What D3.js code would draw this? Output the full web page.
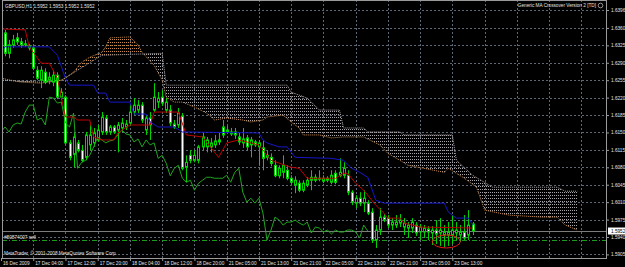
<!DOCTYPE html>
<html>
<head>
<meta charset="utf-8">
<script src="https://cdn.jsdelivr.net/npm/d3@7"></script>
<style>
  body { margin: 0; background: #000; }
  svg { display: block; }
  text { font-family: "Liberation Sans", Arial, sans-serif; font-size: 4.7px; fill: #e4e4e4; }
</style>
</head>
<body>
<svg id="main" width="625" height="267"></svg>
<script>
// GBPUSD H1 candles, bar 0 = 16 Dec 2009 20:00
const openP = [1.6336,1.6350,1.6309,1.6326,1.6340,1.6332,1.6328,1.6324,1.6320,1.6275,
  1.6255,1.6271,1.6255,1.6251,1.6265,1.6221,1.6221,1.6129,1.6106,1.6129,
  1.6114,1.6100,1.6125,1.6129,1.6135,1.6151,1.6179,1.6151,1.6161,1.6155,
  1.6159,1.6161,1.6169,1.6191,1.6195,1.6205,1.6155,1.6179,1.6195,1.6211,
  1.6221,1.6195,1.6195,1.6167,1.6165,1.6183,1.6080,1.6104,1.6094,1.6094,
  1.6121,1.6121,1.6121,1.6125,1.6131,1.6161,1.6151,1.6151,1.6151,1.6141,
  1.6129,1.6139,1.6125,1.6131,1.6121,1.6119,1.6100,1.6100,1.6084,1.6063,
  1.6070,1.6074,1.6058,1.6044,1.6048,1.6034,1.6044,1.6054,1.6054,1.6056,
  1.6052,1.6054,1.6050,1.6068,1.6064,1.6064,1.6064,1.6030,1.6008,1.6018,
  1.6008,1.6008,1.5990,1.5934,1.5954,1.5980,1.5978,1.5964,1.5964,1.5968,
  1.5960,1.5958,1.5958,1.5964,1.5950,1.5950,1.5956,1.5948,1.5954,1.5948,
  1.5944,1.5944,1.5944,1.5948,1.5944,1.5950,1.5944,1.5966];
const highP = [1.6376,1.6356,1.6336,1.6346,1.6350,1.6340,1.6336,1.6328,1.6324,1.6283,
  1.6283,1.6279,1.6271,1.6275,1.6271,1.6239,1.6225,1.6135,1.6149,1.6135,
  1.6125,1.6151,1.6165,1.6159,1.6165,1.6191,1.6185,1.6165,1.6165,1.6171,
  1.6179,1.6175,1.6205,1.6219,1.6215,1.6211,1.6185,1.6191,1.6249,1.6231,
  1.6235,1.6219,1.6205,1.6175,1.6199,1.6189,1.6104,1.6114,1.6114,1.6125,
  1.6149,1.6141,1.6139,1.6145,1.6149,1.6175,1.6163,1.6159,1.6159,1.6149,
  1.6159,1.6145,1.6141,1.6135,1.6135,1.6135,1.6114,1.6108,1.6094,1.6084,
  1.6104,1.6084,1.6064,1.6062,1.6054,1.6054,1.6060,1.6074,1.6066,1.6074,
  1.6064,1.6062,1.6074,1.6074,1.6098,1.6090,1.6074,1.6034,1.6024,1.6030,
  1.6034,1.6014,1.5998,1.5964,1.5998,1.5986,1.5984,1.5978,1.5984,1.5986,
  1.5978,1.5970,1.5978,1.5970,1.5966,1.5964,1.5962,1.5962,1.5974,1.5978,
  1.5964,1.5970,1.5984,1.5970,1.5964,1.5984,1.5994,1.5970];
const lowP = [1.6322,1.6303,1.6299,1.6320,1.6326,1.6320,1.6322,1.6315,1.6275,1.6255,
  1.6239,1.6247,1.6247,1.6243,1.6217,1.6215,1.6125,1.6094,1.6080,1.6110,
  1.6090,1.6094,1.6114,1.6121,1.6131,1.6145,1.6145,1.6145,1.6147,1.6110,
  1.6151,1.6155,1.6163,1.6185,1.6189,1.6169,1.6145,1.6135,1.6191,1.6199,
  1.6203,1.6189,1.6163,1.6157,1.6159,1.6074,1.6050,1.6088,1.6090,1.6088,
  1.6114,1.6110,1.6110,1.6119,1.6125,1.6139,1.6147,1.6143,1.6137,1.6125,
  1.6119,1.6114,1.6100,1.6121,1.6084,1.6074,1.6094,1.6082,1.6060,1.6058,
  1.6058,1.6054,1.6046,1.6028,1.6030,1.6030,1.6040,1.6034,1.6050,1.6052,
  1.6048,1.6050,1.6046,1.6046,1.6060,1.6058,1.6024,1.6004,1.5998,1.6002,
  1.5990,1.5984,1.5928,1.5918,1.5944,1.5970,1.5958,1.5954,1.5958,1.5960,
  1.5944,1.5938,1.5948,1.5942,1.5934,1.5938,1.5934,1.5924,1.5926,1.5922,
  1.5920,1.5922,1.5926,1.5934,1.5930,1.5934,1.5934,1.5944];
const closeP = [1.6356,1.6309,1.6326,1.6336,1.6332,1.6326,1.6326,1.6320,1.6279,1.6259,
  1.6275,1.6251,1.6261,1.6265,1.6221,1.6231,1.6129,1.6100,1.6141,1.6114,
  1.6094,1.6145,1.6145,1.6149,1.6155,1.6181,1.6151,1.6161,1.6151,1.6165,
  1.6169,1.6167,1.6191,1.6205,1.6205,1.6175,1.6179,1.6165,1.6221,1.6219,
  1.6209,1.6211,1.6169,1.6161,1.6189,1.6078,1.6090,1.6094,1.6104,1.6121,
  1.6141,1.6135,1.6129,1.6133,1.6135,1.6145,1.6155,1.6147,1.6145,1.6131,
  1.6137,1.6121,1.6135,1.6125,1.6129,1.6098,1.6104,1.6088,1.6063,1.6078,
  1.6084,1.6058,1.6050,1.6054,1.6034,1.6048,1.6054,1.6060,1.6060,1.6058,
  1.6058,1.6058,1.6064,1.6050,1.6070,1.6078,1.6030,1.6010,1.6018,1.6008,
  1.6018,1.5988,1.5934,1.5954,1.5980,1.5974,1.5964,1.5970,1.5970,1.5974,
  1.5968,1.5964,1.5970,1.5948,1.5960,1.5958,1.5950,1.5954,1.5946,1.5954,
  1.5950,1.5950,1.5954,1.5954,1.5950,1.5938,1.5964,1.5952];

// Ichimoku lines as [bar, price] vertices
const tenkan = [[0,1.6358],[6,1.6356],[7,1.6322],[10,1.6289],[12,1.6289],[14,1.6259],[16,1.6181],[18,1.6181],
  [19,1.6175],[22,1.6175],[23,1.6141],[25,1.6135],[28,1.6135],[29,1.6149],[32,1.6165],[37,1.6165],[38,1.6191],
  [44,1.6191],[46,1.6145],[50,1.6141],[54,1.6100],[56,1.6129],[59,1.6135],[62,1.6129],[64,1.6125],[67,1.6094],
  [72,1.6080],[74,1.6078],[76,1.6058],[83,1.6058],[85,1.6068],[86,1.6068],[88,1.6048],[90,1.6034],[93,1.6004],
  [95,1.5988],[96,1.5978],[99,1.5978],[100,1.5968],[104,1.5960],[117,1.5958]];
const kijun = [[0,1.6311],[1,1.6322],[12,1.6322],[14,1.6305],[16,1.6259],[17,1.6245],[23,1.6245],[24,1.6229],
  [26,1.6229],[27,1.6211],[32,1.6211],[33,1.6187],[36,1.6187],[37,1.6171],[39,1.6161],[43,1.6161],[45,1.6151],
  [64,1.6149],[65,1.6135],[66,1.6129],[69,1.6121],[71,1.6121],[73,1.6100],[82,1.6098],[85,1.6094],[87,1.6078],
  [89,1.6070],[91,1.6060],[93,1.6014],[95,1.6008],[110,1.6008],[111,1.5990],[113,1.5978],[116,1.5978],[117,1.5964]];
const spanA = [[0,1.6259],[5,1.6251],[10,1.6249],[15,1.6255],[16,1.6259],[18,1.6271],[20,1.6291],[22,1.6301],
  [25,1.6311],[26,1.6322],[27,1.6340],[32,1.6342],[34,1.6326],[35,1.6311],[38,1.6285],[40,1.6255],[41,1.6221],
  [43,1.6211],[45,1.6211],[48,1.6201],[51,1.6189],[53,1.6175],[56,1.6179],[60,1.6175],[62,1.6171],[65,1.6175],
  [66,1.6181],[70,1.6185],[72,1.6171],[74,1.6159],[75,1.6145],[79,1.6145],[82,1.6139],[85,1.6141],[90,1.6141],
  [94,1.6125],[96,1.6108],[99,1.6094],[101,1.6084],[110,1.6070],[111,1.6078],[115,1.6058],[118,1.6040],
  [120,1.5994],[126,1.5984],[134,1.5980],[138,1.5980],[140,1.5964],[143,1.5954]];
const spanB = [[0,1.6255],[10,1.6251],[15,1.6255],[25,1.6305],[40,1.6309],[41,1.6245],[71,1.6245],[72,1.6231],
  [76,1.6219],[79,1.6195],[84,1.6195],[85,1.6159],[90,1.6159],[91,1.6151],[99,1.6151],[100,1.6145],[112,1.6145],
  [113,1.6094],[117,1.6064],[122,1.6040],[138,1.6040],[140,1.6032],[143,1.6032]];

const priceTicks = [1.6396,1.6360,1.6325,1.6290,1.6255,1.6220,1.6185,1.6150,1.6115,1.6080,1.6045,1.6010,1.5975,1.5940,1.5905];
const timeIdx = [0,8,16,24,32,40,48,56,64,72,80,88,96,104,112];
const timeLabels = ["16 Dec 2009","17 Dec 04:00","17 Dec 12:00","17 Dec 20:00","18 Dec 04:00","18 Dec 12:00",
  "18 Dec 20:00","21 Dec 05:00","21 Dec 13:00","21 Dec 21:00","22 Dec 05:00","22 Dec 13:00","22 Dec 21:00",
  "23 Dec 05:00","23 Dec 13:00"];
const bidPrice = 1.5952;
const orderPrice = 1.5933;

const L = 2, R = 607, T = 0, B = 258;
const svg = d3.select('#main');
svg.append('rect').attr('width', 625).attr('height', 267).attr('fill', '#000');

const x = d3.scaleLinear().domain([0, 143]).range([1, 1 + 4.03 * 143]);
const y = d3.scaleLinear().domain([1.6396, 1.5940]).range([10, 237]);
const px = i => Math.round(x(i)) + 0.5;

const defs = svg.append('defs');
defs.append('clipPath').attr('id', 'plot')
  .append('rect').attr('x', L + 1).attr('y', T).attr('width', R - L - 1).attr('height', B - T);
const pat = (id, col) => defs.append('pattern').attr('id', id)
  .attr('width', 2).attr('height', 3).attr('patternUnits', 'userSpaceOnUse')
  .append('rect').attr('width', 1).attr('height', 1).attr('fill', col);
pat('dotA', '#c98a4c');
pat('dotB', '#a9a4aa');

const line = d3.line().x(d => x(d[0])).y(d => y(d[1]));

// grid
const grid = svg.append('g').attr('stroke', '#5f6976').attr('stroke-dasharray', '2,2').attr('stroke-width', 1);
grid.selectAll('.h').data(priceTicks).enter().append('line')
  .attr('x1', L).attr('x2', R).attr('y1', d => Math.round(y(d)) + 0.5).attr('y2', d => Math.round(y(d)) + 0.5);
grid.selectAll('.v').data(d3.range(8, 152, 8)).enter().append('line')
  .attr('x1', d => px(d)).attr('x2', d => px(d)).attr('y1', T).attr('y2', B);

const plot = svg.append('g').attr('clip-path', 'url(#plot)');

// cloud
const cloudPath = line(spanA.concat(spanB.slice().reverse())) + 'Z';
const bEnd = spanB[spanB.length - 1][0];
defs.append('clipPath').attr('id', 'aboveB').append('path')
  .attr('d', line(spanB.concat([[bEnd, 1.70], [0, 1.70]])) + 'Z');
defs.append('clipPath').attr('id', 'belowB').append('path')
  .attr('d', line(spanB.concat([[bEnd, 1.50], [0, 1.50]])) + 'Z');
plot.append('g').attr('clip-path', 'url(#aboveB)')
  .append('path').attr('d', cloudPath).attr('fill', 'url(#dotA)');
plot.append('g').attr('clip-path', 'url(#belowB)')
  .append('path').attr('d', cloudPath).attr('fill', 'url(#dotB)');
plot.append('path').attr('d', line(spanA)).attr('fill', 'none')
  .attr('stroke', '#c98a4c').attr('stroke-dasharray', '1,1');
plot.append('path').attr('d', line(spanB)).attr('fill', 'none')
  .attr('stroke', '#a9a4aa').attr('stroke-dasharray', '1,1');

// bid and order lines
plot.append('line').attr('x1', L).attr('x2', R)
  .attr('y1', Math.round(y(bidPrice)) + 0.5).attr('y2', Math.round(y(bidPrice)) + 0.5)
  .attr('stroke', '#7c7c7c');
plot.append('line').attr('x1', L).attr('x2', R)
  .attr('y1', Math.round(y(orderPrice)) + 0.5).attr('y2', Math.round(y(orderPrice)) + 0.5)
  .attr('stroke', '#1e9a1e').attr('stroke-dasharray', '5,2,1,2');

// candles
const bars = d3.range(closeP.length);
const cg = plot.append('g');
cg.selectAll('.wick').data(bars).enter().append('line')
  .attr('x1', i => px(i)).attr('x2', i => px(i))
  .attr('y1', i => y(highP[i])).attr('y2', i => y(lowP[i]))
  .attr('stroke', '#00d400');
cg.selectAll('.body').data(bars).enter().append('rect')
  .attr('x', i => px(i) - 1)
  .attr('width', 2)
  .attr('y', i => y(Math.max(openP[i], closeP[i])))
  .attr('height', i => Math.max(0.8, Math.abs(y(openP[i]) - y(closeP[i]))))
  .attr('fill', i => closeP[i] < openP[i] ? '#ffffff' : '#000000')
  .attr('stroke', '#00d400').attr('stroke-width', 1);

// chikou span: closes shifted back 26 bars
const chikou = closeP.slice(26).map((c, i) => [i, c]);
plot.append('path').attr('d', line(chikou)).attr('fill', 'none').attr('stroke', '#1ea61e');
plot.append('path').attr('d', line(tenkan)).attr('fill', 'none').attr('stroke', '#c00000');
plot.append('path').attr('d', line(kijun)).attr('fill', 'none').attr('stroke', '#1616c8');

// red marker ellipse
plot.append('ellipse').attr('cx', x(110.5)).attr('cy', y(1.5931)).attr('rx', 14).attr('ry', 6.5)
  .attr('fill', 'none').attr('stroke', '#e81818');

// frame
svg.append('rect').attr('x', L + 0.5).attr('y', T + 0.5).attr('width', R - L - 1).attr('height', B - T)
  .attr('fill', 'none').attr('stroke', '#9a9a9a');

// price axis
const ya = svg.append('g').attr('transform', `translate(${R},0)`)
  .call(d3.axisRight(y).tickValues(priceTicks).tickSize(2).tickPadding(2).tickFormat(d3.format('.4f')));
ya.select('.domain').remove();
ya.selectAll('line').attr('stroke', '#9a9a9a');
ya.selectAll('text').attr('fill', '#e4e4e4').style('font-size', '4.7px');

// bid label
svg.append('rect').attr('x', R + 1).attr('y', y(bidPrice) - 3.5).attr('width', 17).attr('height', 7).attr('fill', '#ffffff');
svg.append('text').attr('x', R + 4).attr('y', y(bidPrice) + 1.7).text(d3.format('.4f')(bidPrice)).style('fill', '#000');

// time axis
const xa = svg.append('g').attr('transform', `translate(0,${B})`)
  .call(d3.axisBottom(x).tickValues(timeIdx).tickSize(3).tickPadding(1).tickFormat((d, i) => timeLabels[i]));
xa.select('.domain').remove();
xa.selectAll('line').attr('stroke', '#9a9a9a');
xa.selectAll('text').attr('text-anchor', 'start').attr('x', 1.5).attr('fill', '#e4e4e4').style('font-size', '4.7px');

// captions
svg.append('text').attr('x', 5).attr('y', 8).text('GBPUSD,H1  1.5952 1.5953 1.5952 1.5952');
svg.append('text').attr('x', 596).attr('y', 7).attr('text-anchor', 'end').text('Generic MA Crossover Version 2 [TD]');
svg.append('circle').attr('cx', 600.5).attr('cy', 5.5).attr('r', 2.3).attr('fill', 'none').attr('stroke', '#d0d0d0').attr('stroke-width', 0.7);
svg.append('text').attr('x', 4).attr('y', 239).text('#80874007 sell');
svg.append('text').attr('x', 4).attr('y', 255).text('MetaTrader, \u00a9 2001-2008 MetaQuotes Software Corp.');
</script>
</body>
</html>
